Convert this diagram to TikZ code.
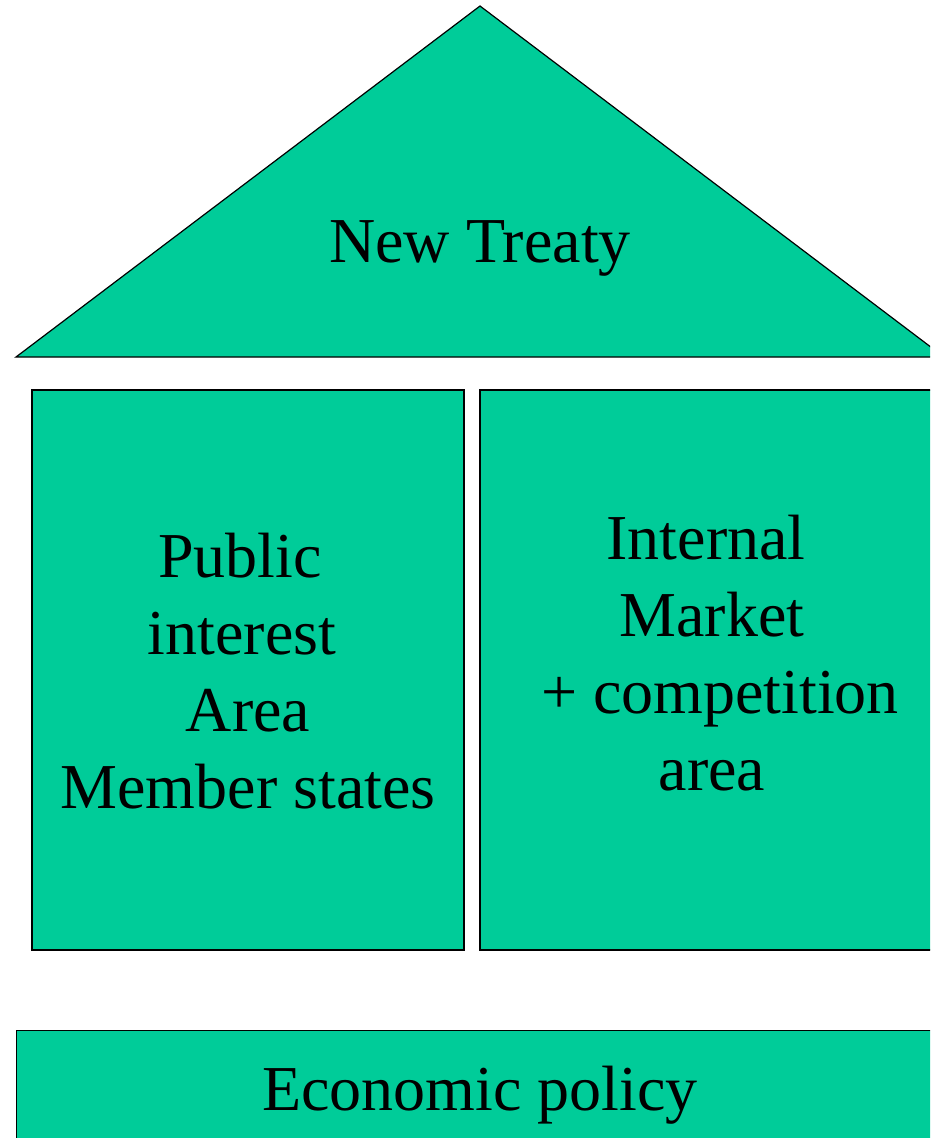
\documentclass[tikz,border=0pt]{standalone}
\usepackage{fontspec}
\setmainfont{Liberation Serif}
\usetikzlibrary{positioning}
\definecolor{treatygreen}{HTML}{00CC99}

\begin{document}
\begin{tikzpicture}[x=1pt, y=-1pt,
    block/.style={draw, fill=treatygreen, line width=1.2pt, inner sep=0pt},
    bigtext/.style={font=\fontsize{64}{77}\selectfont, align=center}
]
\useasboundingbox (0,0) rectangle (930,1138);
\clip (0,0) rectangle (930,1138);

% Roof
\coordinate (apex) at (480,6);
\coordinate (eaveL) at (16,357);
\coordinate (eaveR) at (944,357);
\filldraw[block] (apex) -- (eaveL) -- (eaveR) -- cycle;
\node[bigtext, anchor=base] (roof) at (480,262) {New Treaty};

% Pillars
\node[block, minimum width=432pt, minimum height=560pt] (publicbox) at (248,670) {};
\node[block, minimum width=464pt, minimum height=560pt] (marketbox) at (712,670) {};
\node[bigtext] (public) at (248,671) {Public\makebox[16pt]{}\\interest\makebox[12pt]{}\\Area\\Member states};
\node[bigtext] (market) at (712,653) {Internal\makebox[12pt]{}\\Market\\\hspace{16pt}+ competition\\area};

% Foundation
\node[block, minimum width=928pt, minimum height=200pt, anchor=north west] (basebox) at (16,1030) {};
\node[bigtext, anchor=base] (economy) at (480,1110) {Economic policy};

\end{tikzpicture}
\end{document}
